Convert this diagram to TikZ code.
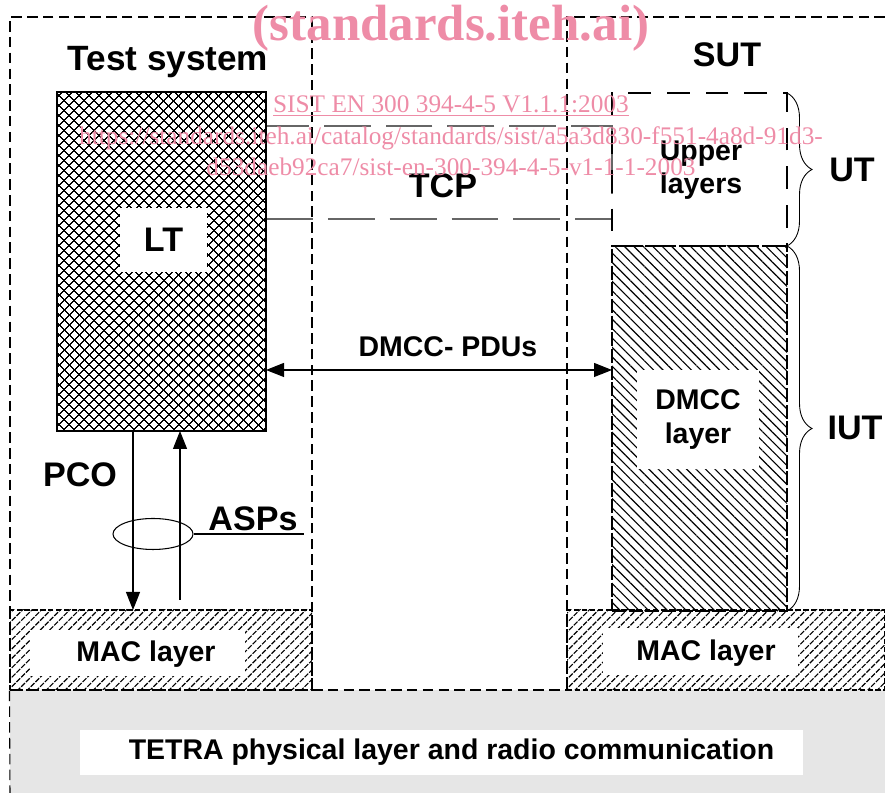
\documentclass[tikz,border=0pt]{standalone}
\usepackage{fontspec}
\setmainfont{Liberation Sans}
\newfontfamily\markfont{Liberation Serif}
\usepackage{tikz}
\usetikzlibrary{positioning, arrows.meta, patterns.meta, shapes.geometric, decorations.pathreplacing}
\definecolor{markpink}{RGB}{238,140,167}
\definecolor{radiogrey}{RGB}{230,230,230}
\tikzset{
	layer/.style={rectangle, draw, line width=0.6pt, inner sep=0pt, outer sep=0pt},
	blank/.style={rectangle, fill=white, inner sep=0pt, outer sep=0pt, align=center},
	sig/.style={line width=0.6pt, -{Triangle[length=3.6mm, width=2.8mm]}}
}
\begin{document}
\begin{tikzpicture}[
	frame/.style={draw, line width=0.6pt, dash pattern=on 6pt off 3pt},
	label_style/.style={font=\bfseries\fontsize{19.4}{23}\selectfont},
	small_label/.style={font=\bfseries\fontsize{16.2}{19}\selectfont, align=center},
	cross_fill/.style={pattern={Hatch[angle=45, distance=4pt, line width=0.7pt]}},
	back_fill/.style={pattern={Lines[angle=-45, distance=3.8pt, line width=0.65pt]}},
	fwd_fill/.style={pattern={Lines[angle=45, distance=3.8pt, line width=0.65pt]}},
	brace_style/.style={decorate, decoration={brace, amplitude=0.5cm}, line width=0.5pt},
	mark_style/.style={text=markpink}
	]
	\useasboundingbox (0,0) rectangle (17.7,15.86);
	
	% --- Radio medium at the bottom ---
	\fill[radiogrey] (0.2,0) rectangle (17.7,2.06);
	\node[blank, minimum width=14.46cm, minimum height=0.9cm] (phys) at (8.83,0.81) {};
	\node[small_label] (physlbl) at ([xshift=0.2cm]phys.center) {TETRA physical layer and radio communication};
	
	% --- Test system side ---
	\node[frame, rectangle, inner sep=0pt, minimum width=6.04cm, minimum height=13.46cm] (testsys) at (3.22,8.79) {};
	\coordinate (floor) at (0.2,0);
	\draw[frame] (testsys.south west) -- (floor);
	\node[label_style, font=\bfseries\fontsize{20}{24}\selectfont] (testlbl) at (3.36,14.62) {Test system};
	
	% --- SUT side (open to the right) ---
	\draw[frame] (17.7,15.52) -| (11.34,2.06);
	\node[label_style] (sut) at (14.54,14.76) {SUT};
	
	% TCP region between the two sides
	\node[layer, draw=black!60, dash pattern=on 26.7pt off 8.5pt, minimum width=6.92cm, minimum height=1.86cm] (tcp) at (8.78,12.41) {};
	\node[label_style] (tcplbl) at (8.86,12.14) {TCP};
	
	% Lower tester
	\node[layer, cross_fill, minimum width=4.18cm, minimum height=6.78cm] (lt) at (3.23,10.63) {};
	\node[blank, label_style, minimum width=1.74cm, minimum height=1.28cm] (ltlbl) at (3.27,11.06) {LT};
	
	% Upper layers and DMCC layer of the IUT
	\node[layer, dash pattern=on 13pt off 9pt, minimum width=3.5cm, minimum height=3.06cm] (upper) at (13.99,12.47) {};
	\node[small_label] (upperlbl) at (14.02,12.46) {Upper\\layers};
	\node[layer, back_fill, dash pattern=on 8pt off 1.5pt, minimum width=3.5cm, minimum height=7.3cm] (dmcc) at (13.99,7.29) {};
	\node[blank, small_label, minimum width=2.44cm, minimum height=1.98cm] (dmcclbl) at (13.96,7.47) {DMCC\\layer};
	
	% --- MAC layers ---
	\node[layer, fwd_fill, dash pattern=on 3pt off 1.5pt, minimum width=6.04cm, minimum height=1.6cm] (macl) at (3.22,2.86) {};
	\node[blank, minimum width=4.3cm, minimum height=0.92cm] (maclbox) at (2.75,2.8) {};
	\node[small_label] (macllbl) at (2.92,2.78) {MAC layer};
	\node[layer, fwd_fill, dash pattern=on 3pt off 1.5pt, minimum width=6.36cm, minimum height=1.6cm] (macr) at (14.52,2.86) {};
	\node[blank, minimum width=3.9cm, minimum height=0.94cm] (macrbox) at (14.01,2.83) {};
	\node[small_label] (macrlbl) at (14.12,2.8) {MAC layer};
	\draw[frame] (macl.south east) -- (macr.south west);
	
	% --- PCO with the ASPs ---
	\coordinate (pcodn) at (2.66,0);
	\coordinate (pcoup) at (3.60,3.86);
	\draw[sig] (lt.south -| pcodn) -- (macl.north -| pcodn);
	\draw[sig] (pcoup) -- (pcoup |- lt.south);
	\node[draw, ellipse, line width=0.6pt, minimum width=1.6cm, minimum height=0.62cm] (bundle) at (3.06,5.18) {};
	\node[label_style, anchor=base] (asps) at (5.06,5.24) {ASPs};
	\draw[line width=0.6pt] (bundle.east) -- (bundle.east -| asps.east);
	\node[label_style] (pco) at (1.6,6.36) {PCO};
	
	% --- Peer PDUs ---
	\coordinate (pdu) at (8.9,8.46);
	\draw[sig, {Triangle[length=3.6mm, width=2.8mm]}-{Triangle[length=3.6mm, width=2.8mm]}] (lt.east |- pdu) -- (dmcc.west |- pdu);
	\node[small_label] (pdulbl) at (8.96,8.92) {DMCC- PDUs};
	
	% --- Braces ---
	\draw[brace_style] (upper.north east) -- (upper.south east);
	\draw[brace_style] (dmcc.north east) -- (dmcc.south east);
	\node[label_style] (ut) at (17.04,12.46) {UT};
	\node[label_style] (iut) at (17.1,7.3) {IUT};
	
	% watermark
	\node[mark_style, font=\markfont\bfseries\fontsize{29}{32}\selectfont] (wm) at (9.02,15.3) {(standards.iteh.ai)};
	\node[mark_style, font=\markfont\fontsize{14.4}{17.8}\selectfont, align=center] (wmref) at (9.02,13.14) {\underline{SIST EN 300 394-4-5 V1.1.1:2003}\\https://standards.iteh.ai/catalog/standards/sist/a5a3d830-f551-4a8d-91d3-\\d53daeb92ca7/sist-en-300-394-4-5-v1-1-1-2003};
	
\end{tikzpicture}
\end{document}
